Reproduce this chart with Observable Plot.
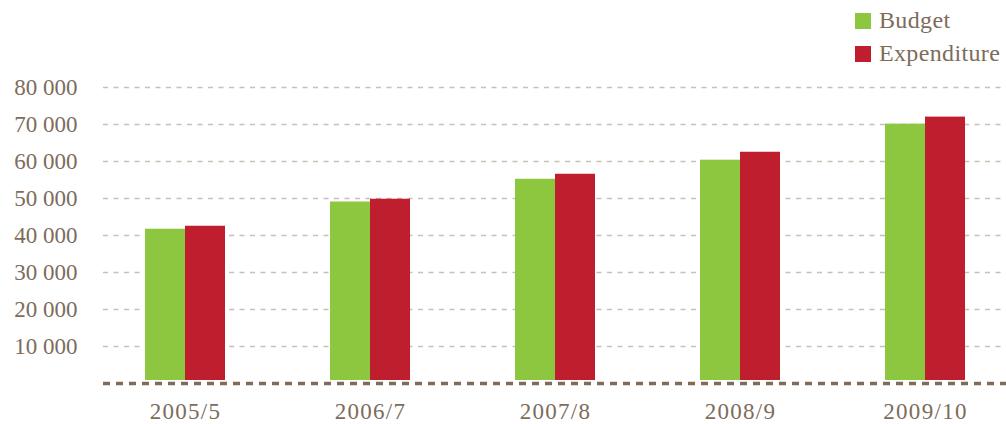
<!DOCTYPE html>
<html>
<head>
<meta charset="utf-8">
<script src="https://cdn.jsdelivr.net/npm/d3@7"></script>
<script src="https://cdn.jsdelivr.net/npm/@observablehq/plot@0.6"></script>
<style>
  html, body { margin: 0; padding: 0; background: #fff; }
  #wrap { position: relative; width: 1006px; height: 424px; font-family: "Liberation Serif", "DejaVu Serif", serif; }
  #legend { position: absolute; left: 855px; top: 4px; color: #7d6c5b; font-size: 24px; letter-spacing: 0.35px; line-height: 33px; }
  #legend .item { display: flex; align-items: center; }
  #legend .sw { width: 16px; height: 16px; margin-right: 8px; }
  .xax text { letter-spacing: 1.3px; }
</style>
</head>
<body>
<div id="wrap">
  <div id="chart"></div>
  <div id="legend"></div>
</div>
<script>
const categories = ["2005/5", "2006/7", "2007/8", "2008/9", "2009/10"];
const budget = [41700, 49050, 55200, 60350, 70100];
const expenditure = [42500, 49800, 56550, 62500, 72000];
const yTicks = [10000, 20000, 30000, 40000, 50000, 60000, 70000, 80000];
const seriesNames = ["Budget", "Expenditure"];
const seriesColors = ["#8dc63f", "#be1e2d"];

const budgetRows = categories.map((c, i) => ({category: c, value: budget[i]}));
const expRows = categories.map((c, i) => ({category: c, value: expenditure[i]}));

const textColor = "#7d6c5b";
const fmt = d => d3.format(",")(d).replace(/,/g, " ");

const chart = Plot.plot({
  width: 1006,
  height: 424,
  marginTop: 87,
  marginBottom: 41,
  marginLeft: 103,
  marginRight: 0,
  style: {fontFamily: "Liberation Serif, DejaVu Serif, serif", fontSize: "23px", color: textColor, background: "#fff"},
  x: {domain: categories, range: [91, 1019], paddingInner: 0.568, paddingOuter: 0.284, align: 0.5, label: null},
  y: {domain: [0, 80000], label: null},
  marks: [
    Plot.ruleY(yTicks, {stroke: "#c9bfb3", strokeWidth: 1.5, strokeDasharray: "5,5.5"}),
    Plot.barY(budgetRows, {x: "category", y: "value", fill: seriesColors[0], insetRight: 40, insetLeft: 0, insetBottom: 3}),
    Plot.barY(expRows, {x: "category", y: "value", fill: seriesColors[1], insetLeft: 40, insetRight: 0, insetBottom: 3}),
    Plot.ruleY([0], {stroke: "#7f6b58", strokeWidth: 3.5, strokeDasharray: "7,6"}),
    Plot.axisX({tickSize: 0, tickPadding: 19, fill: textColor, fontSize: 23, label: null, className: "xax"}),
    Plot.axisY({ticks: yTicks, tickSize: 0, tickPadding: 26, tickFormat: fmt, fill: textColor, fontSize: 23, label: null})
  ]
});
document.getElementById("chart").appendChild(chart);

const legend = document.getElementById("legend");
seriesNames.forEach((name, i) => {
  const item = document.createElement("div");
  item.className = "item";
  const sw = document.createElement("span");
  sw.className = "sw";
  sw.style.background = seriesColors[i];
  const t = document.createElement("span");
  t.textContent = name;
  item.appendChild(sw);
  item.appendChild(t);
  legend.appendChild(item);
});
</script>
</body>
</html>
